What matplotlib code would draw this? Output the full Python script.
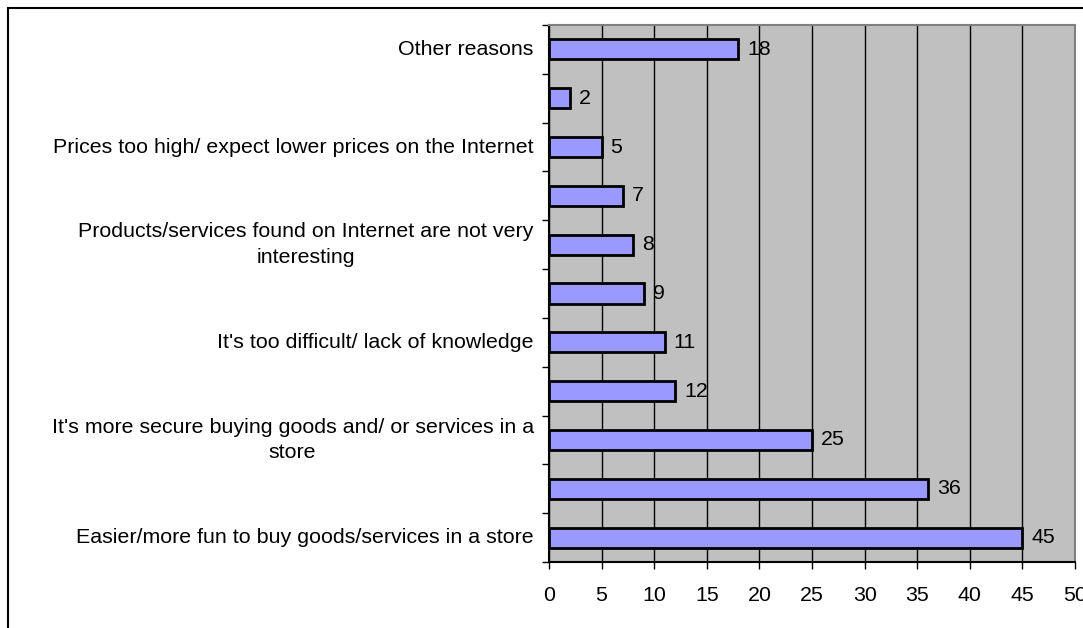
import matplotlib.pyplot as plt
from matplotlib.patches import Rectangle

# data, from bottom to top (unlabeled categories kept blank as in the source)
labels = [
    'Easier/more fun to buy goods/services in a store',
    '',
    "It's more secure buying goods and/ or services in a\nstore",
    '',
    "It's too difficult/ lack of knowledge",
    '',
    'Products/services found on Internet are not very\ninteresting',
    '',
    'Prices too high/ expect lower prices on the Internet',
    '',
    'Other reasons',
]
values = [45, 36, 25, 12, 11, 9, 8, 7, 5, 2, 18]
x_ticks = [0, 5, 10, 15, 20, 25, 30, 35, 40, 45, 50]

plt.rcParams['font.family'] = ['Liberation Sans', 'DejaVu Sans']
FS = 15.4

W, H = 1083, 628
fig = plt.figure(figsize=(W / 100, H / 100), dpi=100)
ax = fig.add_axes([549 / W, 1 - 562 / H, (1075 - 549) / W, (562 - 25) / H])

n = len(values)
pos = list(range(n))
ax.set_facecolor('#C0C0C0')
ax.barh(pos, values, height=0.41, color='#9999FF', edgecolor='black', linewidth=2, zorder=3)

ax.set_xlim(0, 50)
ax.set_ylim(-0.5, n - 0.5)
ax.set_xticks(x_ticks)
ax.set_xticklabels([str(v) for v in x_ticks], fontsize=FS)
ax.xaxis.grid(True, color='black', linewidth=1)
ax.set_axisbelow(True)

# category ticks sit on the slot boundaries
ax.set_yticks([i - 0.5 for i in range(n + 1)])
ax.set_yticklabels([])
ax.tick_params(axis='y', length=5, width=1, direction='out')
ax.tick_params(axis='x', length=5, width=1, direction='out', pad=12)

for i, lab in enumerate(labels):
    if lab:
        ax.annotate(lab, (0, i), xytext=(-11, 0), textcoords='offset points',
                    ha='right', va='center', multialignment='center',
                    fontsize=FS, linespacing=1.45)

for i, v in enumerate(values):
    ax.annotate(str(v), (v, i), xytext=(6.5, 0), textcoords='offset points',
                ha='left', va='center', fontsize=FS, zorder=4)

ax.spines['left'].set_color('black')
ax.spines['bottom'].set_color('black')
ax.spines['top'].set_color('#808080')
ax.spines['right'].set_color('#808080')
for s in ax.spines.values():
    s.set_linewidth(1.5)

# outer chart frame, runs past the right and bottom edges
fig.patches.append(Rectangle((8 / W, -0.1), 1.2, 1 - 8 / H + 0.1, transform=fig.transFigure,
                             fill=False, edgecolor='black', linewidth=1.5))

fig.savefig('out.png', dpi=100)
